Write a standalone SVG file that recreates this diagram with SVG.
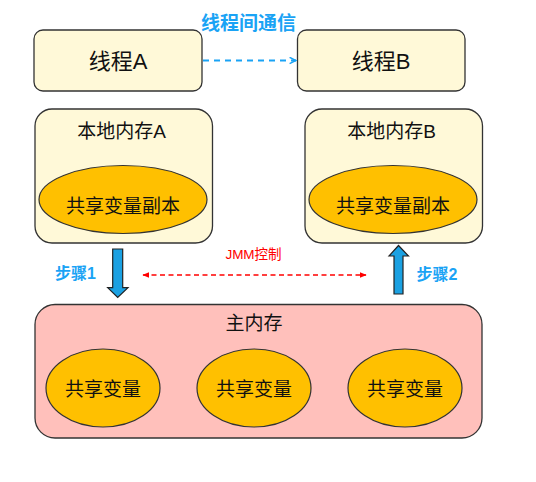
<svg xmlns="http://www.w3.org/2000/svg" width="536" height="482" viewBox="0 0 536 482">
<style>
text{font-family:"Liberation Sans","Noto Sans CJK SC",sans-serif;text-anchor:middle;dominant-baseline:central;fill:#111}
.box{fill:#FFF9D8;stroke:#333;stroke-width:1.3}
.ell{fill:#FFC000;stroke:#333;stroke-width:1.2}
.main{fill:#FFC0BB;stroke:#333;stroke-width:1.3}
.t22{font-size:22px}
.t19{font-size:19px}
.blue{fill:#1AA3F5;font-weight:bold}
.bigarrow{fill:#1BA1E2;stroke:#222;stroke-width:1.2}
</style>
<defs>
<marker id="ab" viewBox="0 0 10 10" refX="9" refY="5" markerWidth="8" markerHeight="8" orient="auto" markerUnits="userSpaceOnUse">
<path d="M1,1 L9,5 L1,9" fill="none" stroke="#1AA3F5" stroke-width="1.8"/>
</marker>
<marker id="ar" viewBox="0 0 10 10" refX="9" refY="5" markerWidth="7" markerHeight="7" orient="auto-start-reverse" markerUnits="userSpaceOnUse">
<path d="M0,1 L10,5 L0,9 Z" fill="#F00"/>
</marker>
</defs>
<rect width="536" height="482" fill="#fff"/>
<text x="248.5" y="23" class="blue" style="font-size:19px">线程间通信</text>
<g id="threadA">
<rect class="box" x="34" y="30" width="168" height="61" rx="9"/>
<text class="t22" x="118" y="61">线程A</text>
</g>
<g id="threadB">
<rect class="box" x="297.5" y="30" width="167.5" height="61" rx="9"/>
<text class="t22" x="381" y="61">线程B</text>
</g>
<g id="localA">
<rect class="box" x="35" y="109" width="177.5" height="134" rx="17"/>
<text class="t19" x="121.5" y="131">本地内存A</text>
<ellipse class="ell" cx="123" cy="199.5" rx="84" ry="34"/>
<text class="t19" x="123" y="206">共享变量副本</text>
</g>
<g id="localB">
<rect class="box" x="305" y="109" width="177.5" height="134" rx="17"/>
<text class="t19" x="391.5" y="131">本地内存B</text>
<ellipse class="ell" cx="393" cy="199.5" rx="84" ry="34"/>
<text class="t19" x="393" y="206">共享变量副本</text>
</g>
<g id="mainMem">
<rect class="main" x="35" y="304.5" width="447" height="133.5" rx="20"/>
<text class="t19" x="254" y="323">主内存</text>
<ellipse class="ell" cx="103" cy="388" rx="57" ry="39"/>
<text class="t19" x="103" y="389">共享变量</text>
<ellipse class="ell" cx="254" cy="388" rx="57" ry="39"/>
<text class="t19" x="254" y="389">共享变量</text>
<ellipse class="ell" cx="405" cy="388" rx="57" ry="39"/>
<text class="t19" x="405" y="389">共享变量</text>
</g>
<g id="connectors">
<line x1="203" y1="60.5" x2="296" y2="60.5" stroke="#1AA3F5" stroke-width="1.8" stroke-dasharray="6,5" marker-end="url(#ab)"/>
<path class="bigarrow" d="M112.7,249 L122.7,249 L122.7,287.7 L128,287.7 L117.7,297.5 L107.7,287.7 L112.7,287.7 Z"/>
<path class="bigarrow" d="M394,294 L403,294 L403,256 L408.5,256 L398.5,245.5 L389,256 L394,256 Z"/>
<line x1="143" y1="275" x2="366" y2="275" stroke="#F00" stroke-width="1.6" stroke-dasharray="5,3.5" marker-start="url(#ar)" marker-end="url(#ar)"/>
</g>
<text x="75.5" y="273" class="blue" style="font-size:16px">步骤1</text>
<text x="437" y="274" class="blue" style="font-size:16px">步骤2</text>
<text x="253.5" y="254" style="font-size:13.5px;fill:#F00">JMM控制</text>
</svg>
